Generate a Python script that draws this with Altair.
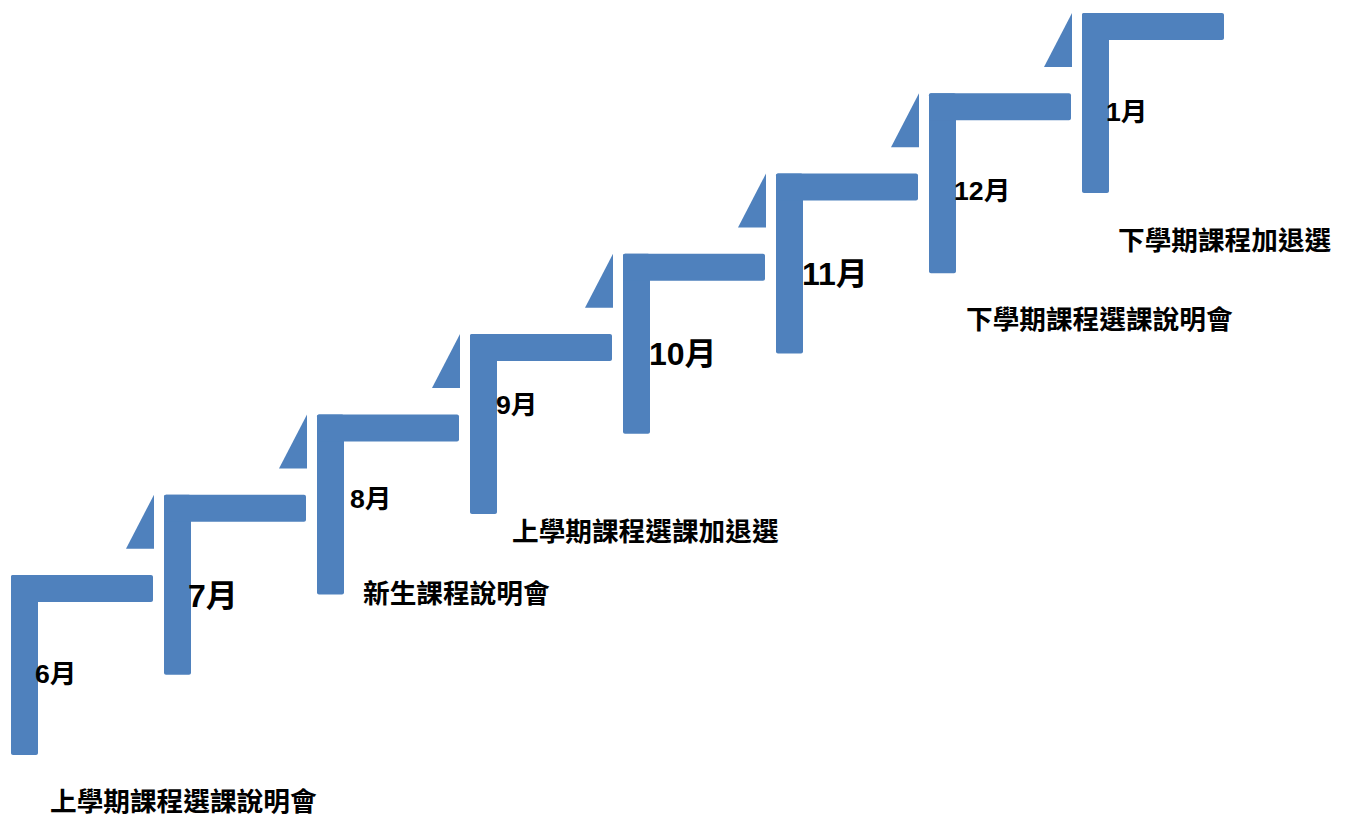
import altair as alt
import pandas as pd

# ---- data ----
months = ["6月", "7月", "8月", "9月", "10月", "11月", "12月", "1月"]
emphasized = [False, True, False, False, True, True, False, False]
event_steps = [0, 2, 3, 6, 7]
event_texts = ["上學期課程選課說明會", "新生課程說明會", "上學期課程選課加退選",
               "下學期課程選課說明會", "下學期課程加退選"]

# ---- layout (pixel units of the canvas scale) ----
X0, TOP0 = 11, 575
STEP_DX, STEP_DY = 153, 80.3
BAR_W, BAR_LEN, ARM_LEN = 27, 180, 142
TRI_L, TRI_R, TRI_H = 38, 10, 54
label_dx = [24, 24, 33, 26, 26, 26, 25, 24]
label_dy = [100, 102, 86, 72, 101, 101, 99, 100]
event_dx = [39, 46, 42, 37, 36]
event_dy = [228, 181, 199, 228, 229]
SMALL, LARGE, EVENT_SIZE = 26.67, 32, 26.67
BLUE = "#4F81BD"
FONT = "Liberation Sans, Noto Sans CJK TC"

rects, tris, labels = [], [], []
for i, m in enumerate(months):
    x0 = X0 + STEP_DX * i
    top = TOP0 - STEP_DY * i
    rects.append(dict(step=i, x=x0, x2=x0 + BAR_W, y=top, y2=top + BAR_LEN))
    rects.append(dict(step=i, x=x0, x2=x0 + ARM_LEN, y=top, y2=top + BAR_W))
    if i > 0:
        tris.append(dict(step=i, x=x0 - TRI_L, y=top + TRI_H, y2=top + TRI_H))
        tris.append(dict(step=i, x=x0 - TRI_R, y=top, y2=top + TRI_H))
    labels.append(dict(step=i, text=m, x=x0 + label_dx[i], y=top + label_dy[i],
                       size=LARGE if emphasized[i] else SMALL))
events = []
for k, (s, t) in enumerate(zip(event_steps, event_texts)):
    events.append(dict(text=t, x=X0 + STEP_DX * s + event_dx[k],
                       y=TOP0 - STEP_DY * s + event_dy[k]))

xs = alt.Scale(domain=[8, 1340], nice=False, zero=False)
ys = alt.Scale(domain=[808, 8], nice=False, zero=False)

def X(f="x"):
    return alt.X(f"{f}:Q", scale=xs, axis=None)

def Y(f="y"):
    return alt.Y(f"{f}:Q", scale=ys, axis=None)

rect_layer = alt.Chart(pd.DataFrame(rects)).mark_rect(color=BLUE, cornerRadius=2).encode(
    x=X(), x2="x2:Q", y=Y(), y2="y2:Q")

tri_layer = alt.Chart(pd.DataFrame(tris)).mark_area(color=BLUE, opacity=1).encode(
    x=X(), y=Y(), y2="y2:Q", detail="step:N")

month_layer = alt.Chart(pd.DataFrame(labels)).mark_text(
    align="left", baseline="middle", font=FONT, fontWeight="bold", color="black").encode(
    x=X(), y=Y(), text="text:N", size=alt.Size("size:Q", scale=None, legend=None))

event_layer = alt.Chart(pd.DataFrame(events)).mark_text(
    align="left", baseline="middle", font=FONT, fontWeight="bold", color="black",
    fontSize=EVENT_SIZE).encode(x=X(), y=Y(), text="text:N")

chart = alt.layer(rect_layer, tri_layer, month_layer, event_layer).properties(
    width=1332, height=800,
    padding={"left": 0, "top": 0, "right": 0, "bottom": 8},
    autosize=alt.AutoSizeParams(type="none"),
).configure_view(stroke=None)

chart.save("out.html", embed_options={"renderer": "svg", "actions": False})
